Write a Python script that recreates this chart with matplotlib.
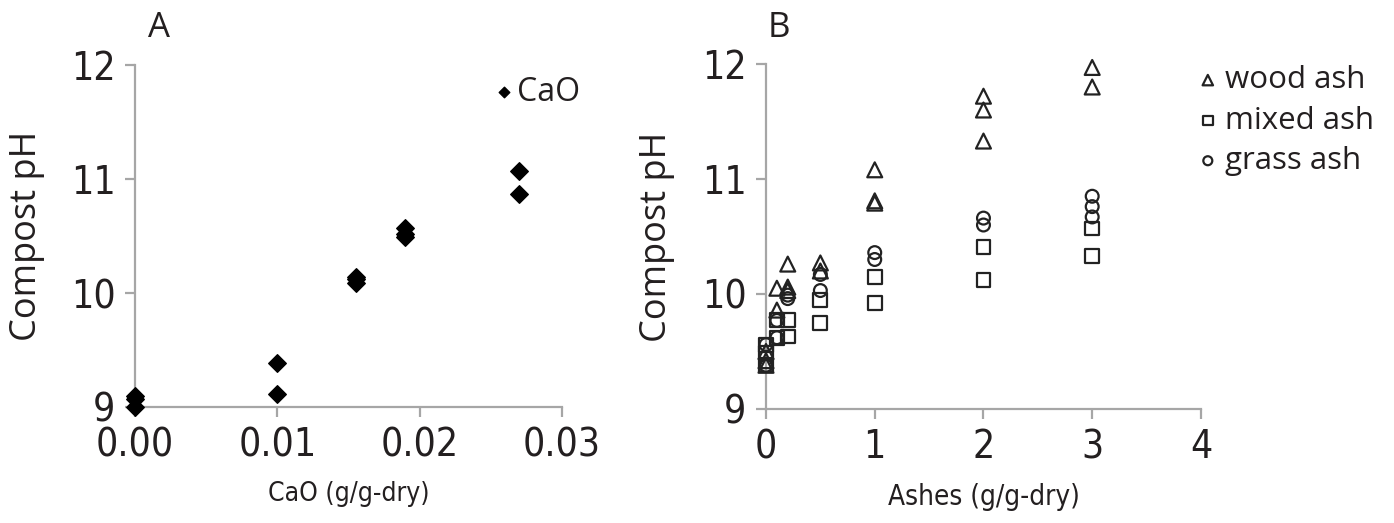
import matplotlib.pyplot as plt

# panel A: CaO dose vs compost pH
cao_dose = [0.0, 0.0, 0.0, 0.01, 0.01, 0.0155, 0.0155, 0.0155, 0.019, 0.019, 0.019, 0.027, 0.027]
cao_ph = [9.0, 9.07, 9.1, 9.39, 9.11, 10.09, 10.12, 10.14, 10.49, 10.52, 10.57, 11.07, 10.87]

# panel B: ash dose vs compost pH
wood_dose = [0, 0, 0, 0.1, 0.1, 0.2, 0.2, 0.2, 0.5, 0.5, 1, 1, 1, 2, 2, 2, 3, 3]
wood_ph = [9.5, 9.42, 9.38, 10.05, 9.86, 10.26, 10.06, 10.03, 10.27, 10.2,
           11.08, 10.81, 10.79, 11.72, 11.6, 11.33, 11.97, 11.8]
mixed_dose = [0, 0, 0, 0.1, 0.1, 0.2, 0.2, 0.5, 0.5, 1, 1, 2, 2, 3, 3]
mixed_ph = [9.56, 9.49, 9.38, 9.77, 9.62, 9.77, 9.63, 9.95, 9.75, 10.15, 9.92, 10.41, 10.12, 10.57, 10.33]
grass_dose = [0, 0, 0.1, 0.1, 0.2, 0.2, 0.5, 0.5, 1, 1, 2, 2, 3, 3, 3]
grass_ph = [9.56, 9.38, 9.77, 9.62, 9.96, 9.99, 10.17, 10.03, 10.36, 10.30, 10.66, 10.6, 10.85, 10.76, 10.67]

ticks_a = [0.00, 0.01, 0.02, 0.03]
ticks_b = [0, 1, 2, 3, 4]
yticks = [9, 10, 11, 12]

narrow = dict(family='DejaVu Sans', stretch='condensed')
regular = ['Open Sans', 'DejaVu Sans']
text_col = '#231f20'
axis_col = '#a6a6a6'

fig = plt.figure(figsize=(13.94, 5.23), dpi=100)
ax_a = fig.add_axes([0.0968, 0.2218, 0.3064, 0.6539])
ax_b = fig.add_axes([0.5495, 0.2180, 0.3120, 0.6596])

ax_a.scatter(cao_dose, cao_ph, marker='D', s=80, color='black', label='CaO',
             zorder=3, clip_on=False)

mk = dict(facecolors='none', edgecolors='#222222', linewidths=1.6, zorder=3, clip_on=False)
ax_b.scatter(wood_dose, wood_ph, marker='^', s=115, label='wood ash', **mk)
ax_b.scatter(mixed_dose, mixed_ph, marker='s', s=100, label='mixed ash', **mk)
ax_b.scatter(grass_dose, grass_ph, marker='o', s=85, label='grass ash', **mk)

for ax in (ax_a, ax_b):
    ax.set_ylim(9, 12)
    ax.set_yticks(yticks)
    for side in ('top', 'right'):
        ax.spines[side].set_visible(False)
    for side in ('left', 'bottom'):
        ax.spines[side].set_color(axis_col)
        ax.spines[side].set_linewidth(1.6)
    ax.tick_params(direction='out', length=7, width=1.6, color=axis_col,
                   labelcolor=text_col, labelsize=28, pad=7)
    ax.set_yticklabels([str(t) for t in yticks], **narrow)
    ax.set_ylabel('Compost pH', fontsize=26, family=regular, color=text_col)
    ax.yaxis.set_label_coords(-0.21, 0.5)

ax_a.set_xlim(0, 0.03)
ax_a.set_xticks(ticks_a)
ax_a.set_xticklabels(['%.2f' % t for t in ticks_a], **narrow)
ax_a.set_xlabel('CaO (g/g-dry)', fontsize=19, color=text_col, **narrow)

ax_b.set_xlim(0, 4)
ax_b.set_xticks(ticks_b)
ax_b.set_xticklabels([str(t) for t in ticks_b], **narrow)
ax_b.set_xlabel('Ashes (g/g-dry)', fontsize=20, color=text_col, **narrow)

for ax in (ax_a, ax_b):
    ax.xaxis.set_label_coords(0.5, -0.215)

ax_a.legend(loc='upper left', bbox_to_anchor=(0.341, 0.886), bbox_transform=fig.transFigure,
            frameon=False, markerscale=0.6, handletextpad=0.0, handlelength=0.8,
            prop={'family': regular, 'size': 23}, labelcolor=text_col, borderpad=0)

ax_b.legend(loc='upper left', bbox_to_anchor=(0.8485, 0.905), bbox_transform=fig.transFigure,
            frameon=False, markerscale=0.7, handletextpad=0.25, handlelength=0.6,
            labelspacing=0.33, prop={'family': regular, 'size': 22.5}, labelcolor=text_col,
            borderpad=0)

fig.text(159 / 1394, 1 - 28 / 523, 'A', ha='center', va='center', fontsize=25,
         family=regular, color=text_col)
fig.text(779 / 1394, 1 - 28 / 523, 'B', ha='center', va='center', fontsize=25,
         family=regular, color=text_col)

fig.savefig('out.png', dpi=100)
